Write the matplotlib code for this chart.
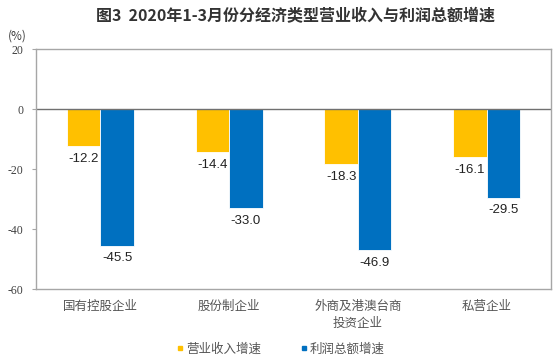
import matplotlib
matplotlib.use("Agg")
import matplotlib.pyplot as plt
import numpy as np
from matplotlib.lines import Line2D

plt.rcParams['font.family'] = ['Noto Sans CJK SC', 'DejaVu Sans']

# Data
categories = ["国有控股企业", "股份制企业", "外商及港澳台商\n投资企业", "私营企业"]
revenue = [-12.2, -14.4, -18.3, -16.1]
profit = [-45.5, -33.0, -46.9, -29.5]
series_names = ["营业收入增速", "利润总额增速"]
yticks = [20, 0, -20, -40, -60]

c_rev = "#FFC000"
c_pro = "#0070C0"

fig = plt.figure(figsize=(5.57, 3.56), dpi=100)
ax = fig.add_axes([36 / 557, 1 - 289 / 356, 515 / 557, 240 / 356])

x = np.arange(len(categories))
w = 0.26
ax.bar(x - w / 2, revenue, w, color=c_rev, edgecolor="white", linewidth=0.6)
ax.bar(x + w / 2, profit, w, color=c_pro, edgecolor="white", linewidth=0.6)

# Data labels under bars
for xi, v in zip(x - w / 2, revenue):
    ax.annotate("{0:.1f}".format(v), (xi, v), xytext=(0, -5),
                textcoords="offset points", ha="center", va="top",
                fontsize=9.5, family="Liberation Sans", color="#222222")
for xi, v in zip(x + w / 2, profit):
    ax.annotate("{0:.1f}".format(v), (xi, v), xytext=(0, -5),
                textcoords="offset points", ha="center", va="top",
                fontsize=9.5, family="Liberation Sans", color="#222222")

ax.axhline(0, color="#707070", linewidth=1.0)
ax.set_xlim(-0.5, len(categories) - 0.5)
ax.set_ylim(-60, 20)
ax.set_yticks(yticks)
ax.set_yticklabels([str(t) for t in yticks], family="Liberation Serif",
                   fontsize=8.5, color="#404040")
ax.tick_params(axis="y", length=3, color="#A6A6A6", pad=6)
ax.set_xticks(x)
ax.set_xticklabels(categories, fontsize=9, color="#555555", linespacing=1.4)
ax.tick_params(axis="x", length=0, pad=8)
for s in ax.spines.values():
    s.set_color("#A6A6A6")
    s.set_linewidth(1.0)

fig.text(296 / 557, 1 - 16 / 356, "图3  2020年1-3月份分经济类型营业收入与利润总额增速",
         ha="center", va="center", fontsize=11.5, fontweight="bold",
         color="#333333")
fig.text(8 / 557, 1 - 36 / 356, "(%)", ha="left", va="center",
         fontsize=8.5, color="#404040")

handles = [Line2D([], [], marker="s", linestyle="none", color=c, markersize=3.5)
           for c in (c_rev, c_pro)]
fig.legend(handles, series_names, loc="center", ncol=2,
           bbox_to_anchor=(280 / 557, 1 - 349 / 356), frameon=False,
           fontsize=9, handletextpad=0.1, columnspacing=3,
           labelcolor="#555555", handlelength=0.8)

fig.savefig("out.png", dpi=100)
plt.close(fig)
